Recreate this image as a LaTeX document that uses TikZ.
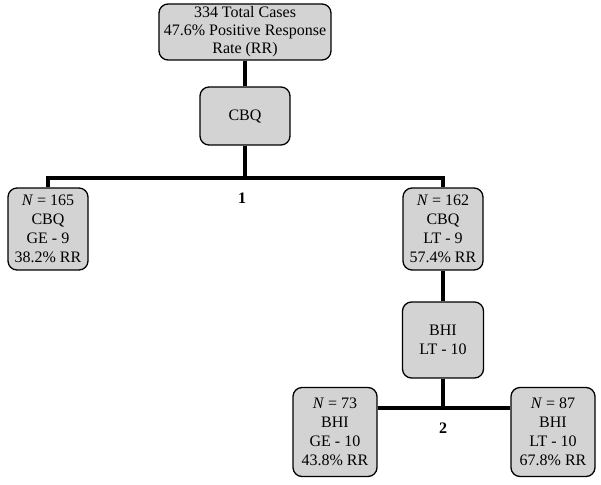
\documentclass[tikz,border=0pt]{standalone}
\usepackage{fontspec}
\setmainfont{Liberation Serif}
\usetikzlibrary{positioning}
\definecolor{boxgray}{RGB}{211,211,211}
\tikzset{
    tbox/.style={draw,line width=1.3pt,rounded corners=9pt,fill=boxgray,
        align=center,inner sep=0.5pt,font=\fontsize{16}{19}\selectfont},
    branch/.style={line width=4pt},
    splitlabel/.style={font=\fontsize{16}{19}\selectfont\bfseries}
}
\begin{document}
\begin{tikzpicture}[x=1pt,y=-1pt]
	\useasboundingbox (0,0) rectangle (601,484);

	\node[tbox,minimum width=172pt,minimum height=56pt,
		font=\fontsize{16}{18}\selectfont] (root) at (245,32)
		{334 Total Cases\\47.6\% Positive Response\\Rate (RR)};
	\node[tbox,minimum width=90pt,minimum height=58pt] (cbq) at (245,116) {CBQ};

	\node[tbox,minimum width=80pt,minimum height=82pt] (n165) at (48,229)
		{\textit{N} = 165\\CBQ\\GE - 9\\38.2\% RR};
	\node[tbox,minimum width=80pt,minimum height=82pt] (n162) at (443,229)
		{\textit{N} = 162\\CBQ\\LT - 9\\57.4\% RR};

	\node[tbox,minimum width=81pt,minimum height=76pt] (bhi) at (443,340) {BHI\\LT - 10};

	\node[tbox,minimum width=84pt,minimum height=89pt] (n73) at (335,432)
		{\textit{N} = 73\\BHI\\GE - 10\\43.8\% RR};
	\node[tbox,minimum width=84pt,minimum height=89pt] (n87) at (553,432)
		{\textit{N} = 87\\BHI\\LT - 10\\67.8\% RR};

	% first split
	\coordinate (j1) at (245,178);
	\draw[branch] (root.south) -- (cbq.north);
	\draw[branch] (cbq.south) -- (j1);
	\draw[branch] (n165.north) |- (j1) -| (n162.north);
	\node[splitlabel] (s1) at (242,198) {1};

	% second split
	\coordinate (j2) at (443,408);
	\draw[branch] (n162.south) -- (bhi.north);
	\draw[branch] (bhi.south) -- (j2);
	\draw[branch] (n73.east |- j2) -- (n87.west |- j2);
	\node[splitlabel] (s2) at (443,428) {2};
\end{tikzpicture}
\end{document}
